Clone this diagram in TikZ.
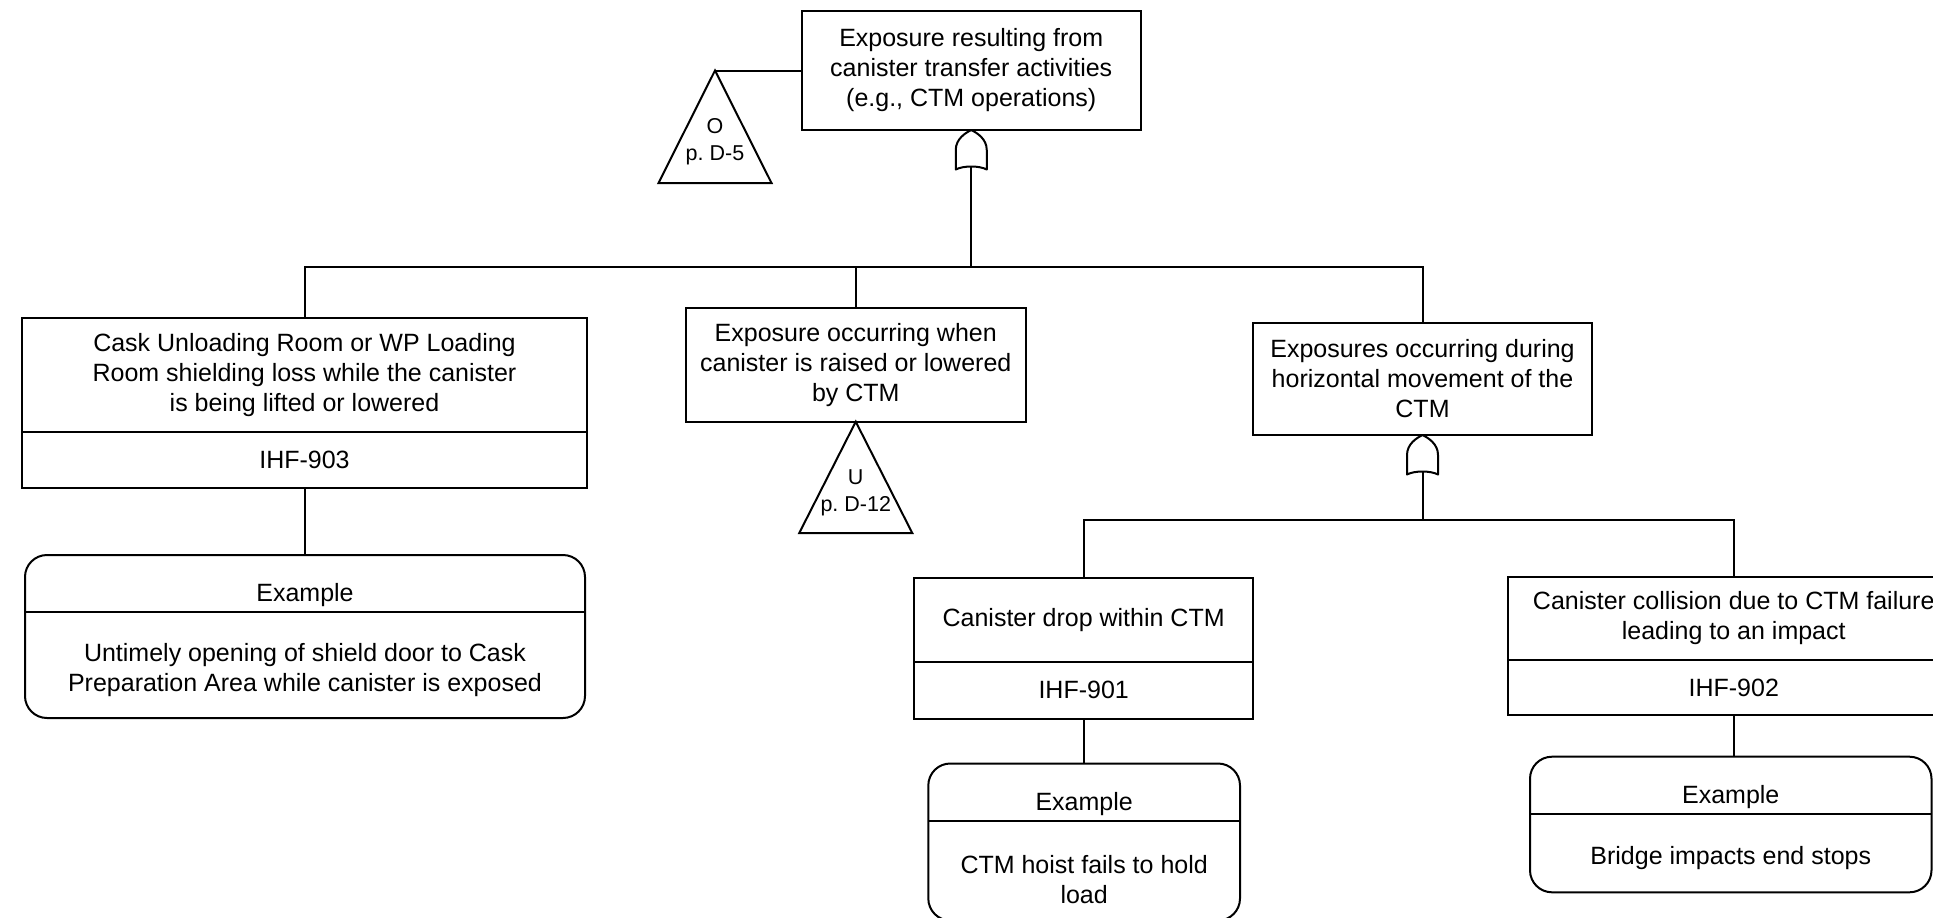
\documentclass[tikz,border=0pt]{standalone}
\usepackage{fontspec}
\setmainfont{Liberation Sans}
\usetikzlibrary{calc}
\frenchspacing
\tikzset{
  evbox/.style={draw, line width=2pt, inner sep=0pt, outer sep=0pt, align=center,
                font=\fontsize{25}{30}\selectfont},
  exbox/.style={draw, line width=2pt, inner sep=0pt, outer sep=0pt, rounded corners=22pt},
  txt/.style={inner sep=0pt, outer sep=0pt, align=center, font=\fontsize{25}{30}\selectfont},
  reftxt/.style={inner sep=0pt, outer sep=0pt, align=center, font=\fontsize{21.5}{27}\selectfont},
  orgate/.pic={
    \draw[line width=2pt, line join=round]
      (0,0) .. controls (6,3) and (15.5,9) .. (15.5,20) -- (15.5,39.5)
      .. controls (8,35.5) and (-8,35.5) .. (-15.5,39.5) -- (-15.5,20)
      .. controls (-15.5,9) and (-6,3) .. (0,0) -- cycle;
    \coordinate (-out) at (0,36.5);
  }
}
\begin{document}
\begin{tikzpicture}[x=1pt, y=-1pt, line width=2pt]
\useasboundingbox (0,0) rectangle (1933,918);
\clip (0,0) rectangle (1933,918);

% top event with its OR gate and transfer triangle O
\node[evbox, minimum width=338.5pt, minimum height=119pt] (top) at (971.25,70.5)
  {Exposure resulting from\\canister transfer activities\\(e.g., CTM operations)};
\pic (g1) at (top.south) {orgate};
\coordinate (oapex) at (715,70.5);
\draw (top.west) -- (oapex);
\draw (oapex) -- ++(-56.5,112.5) -- ++(113,0) -- cycle;
\node[reftxt] (oref) at ($(oapex)+(0,71.5)$) {O\\p. D-5};

% second level events
\node[evbox, minimum width=565pt, minimum height=113.7pt] (b903) at (304.5,374.85)
  {Cask Unloading Room or WP Loading\\Room shielding loss while the canister\\is being lifted or lowered};
\node[evbox, minimum width=565pt, minimum height=56.3pt, anchor=north] (id903) at (b903.south) {IHF-903};
\node[evbox, minimum width=339.5pt, minimum height=113.7pt] (mid) at (855.75,364.85)
  {Exposure occurring when\\canister is raised or lowered\\by CTM};
\node[evbox, minimum width=339pt, minimum height=112.3pt] (horz) at (1422.5,378.85)
  {Exposures occurring during\\horizontal movement of the\\CTM};

\coordinate (j1) at (971.25,267);
\draw (g1-out) -- (j1);
\draw (b903.north) |- (j1) -| (horz.north);
\draw (mid.north) -- (mid.north |- j1);

% transfer triangle U
\draw (mid.south) -- ++(-56.5,111.3) -- ++(113,0) -- cycle;
\node[reftxt] (uref) at ($(mid.south)+(0,71.5)$) {U\\p. D-12};

% example for IHF-903
\node[exbox, minimum width=560pt, minimum height=163pt] (ex903) at (305,636.5) {};
\draw (id903.south) -- (id903.south |- ex903.north);
\draw ($(ex903.north west)+(0,57)$) -- ($(ex903.north east)+(0,57)$);
\node[txt] (ex903h) at ($(ex903.north)+(0,40.5)$) {Example};
\node[txt] (ex903b) at (305,670.5)
  {Untimely opening of shield door to Cask\\Preparation Area while canister is exposed};

% horizontal movement branch
\pic (g2) at (horz.south) {orgate};
\coordinate (j2) at (1422.5,520);
\draw (g2-out) -- (j2);
\node[evbox, minimum width=339.3pt, minimum height=84pt] (b901) at (1083.65,619.7)
  {Canister drop within CTM};
\node[evbox, minimum width=339.3pt, minimum height=57pt, anchor=north] (id901) at (b901.south) {IHF-901};
\node[evbox, minimum width=452.5pt, minimum height=83pt] (b902) at (1733.75,618.5)
  {Canister collision due to CTM failure\\leading to an impact};
\node[evbox, minimum width=452.5pt, minimum height=55pt, anchor=north] (id902) at (b902.south) {IHF-902};
\draw (b901.north) |- (j2) -| (b902.north);

% example for IHF-901 (its lower edge runs off the page)
\node[exbox, minimum width=311.7pt, minimum height=157pt] (ex901) at (1084.15,842) {};
\draw (id901.south) -- (id901.south |- ex901.north);
\draw ($(ex901.north west)+(0,57.2)$) -- ($(ex901.north east)+(0,57.2)$);
\node[txt] (ex901h) at ($(ex901.north)+(0,41)$) {Example};
\node[txt] (ex901b) at (1084.15,880) {CTM hoist fails to hold\\load};

% example for IHF-902
\node[exbox, minimum width=401.5pt, minimum height=135.6pt] (ex902) at (1730.75,824.5) {};
\draw (id902.south) -- (id902.south |- ex902.north);
\draw ($(ex902.north west)+(0,57.3)$) -- ($(ex902.north east)+(0,57.3)$);
\node[txt] (ex902h) at ($(ex902.north)+(0,40.3)$) {Example};
\node[txt] (ex902b) at (1730.75,858) {Bridge impacts end stops};
\end{tikzpicture}
\end{document}
